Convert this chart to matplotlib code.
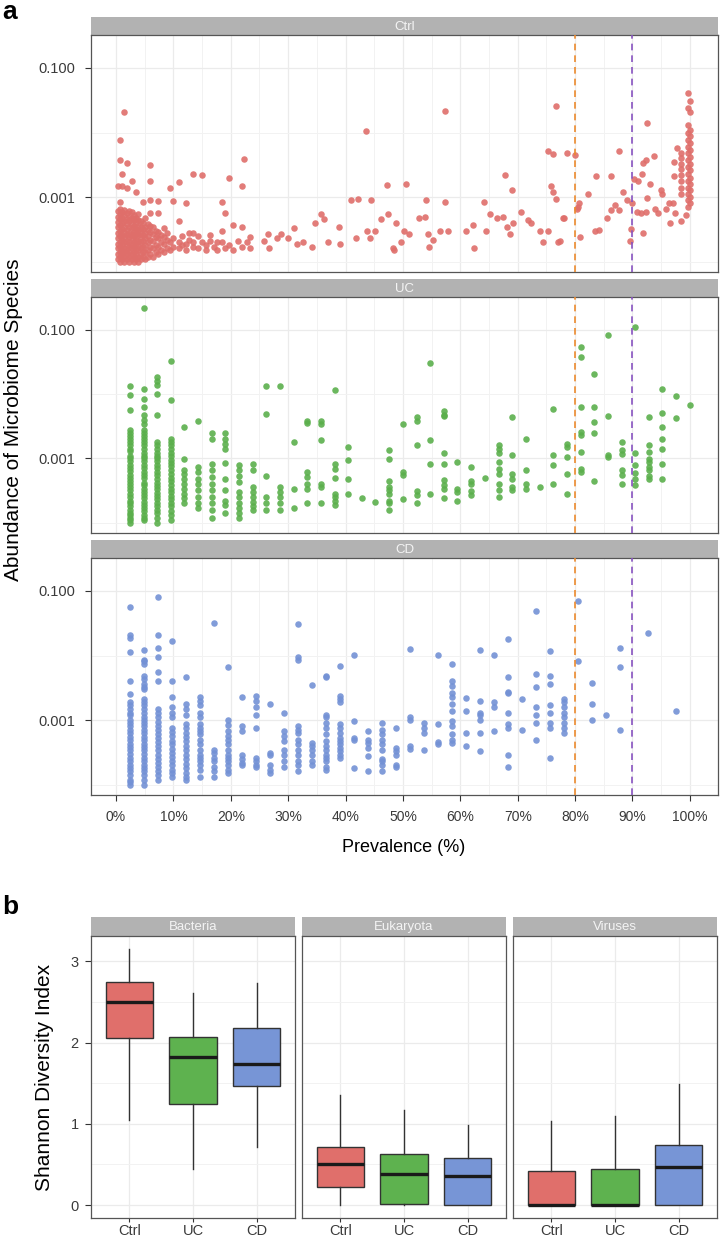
import matplotlib
matplotlib.use("Agg")
import matplotlib.pyplot as plt
from matplotlib.ticker import FixedLocator, NullFormatter

plt.rcParams['font.family'] = ['Liberation Sans', 'DejaVu Sans']

# ---------------- panel a: prevalence (%) columns and abundances ----------------
ctrl_prev = [0.3, 0.7, 1.1, 1.4, 1.9, 2.3, 2.7, 3.1, 3.5, 3.9, 4.3, 4.7, 5.1, 5.5, 5.9, 6.4, 6.9, 7.4,
             7.9, 8.4, 8.9, 9.4, 10.0, 10.9, 11.5, 12.2, 12.8, 13.5, 14.3, 14.9, 15.6, 16.3, 17.0, 17.6,
             18.4, 19.0, 19.7, 20.4, 21.2, 21.9, 22.3, 22.8, 23.4, 25.8, 26.4, 26.6, 28.0, 28.8, 30.0,
             31.0, 31.6, 32.6, 34.2, 34.6, 35.8, 36.2, 37.0, 38.8, 39.0, 41.0, 41.8, 42.2, 43.6, 43.8,
             44.2, 44.4, 45.2, 46.2, 47.2, 47.4, 48.2, 48.4, 48.8, 49.6, 50.2, 50.6, 51.0, 52.8, 53.8,
             54.0, 54.4, 54.6, 55.2, 56.4, 57.4, 57.8, 61.0, 62.2, 62.4, 64.2, 64.4, 65.2, 66.4, 67.4,
             67.8, 68.2, 68.6, 69.0, 69.2, 70.6, 71.8, 72.4, 73.8, 74.4, 75.2, 75.8, 76.2, 76.6, 77.0,
             77.4, 77.9, 78.0, 78.6, 80.0, 80.3, 80.5, 80.7, 80.8, 82.2, 83.5, 83.6, 84.2, 85.6, 86.2,
             86.9, 87.6, 87.7, 88.4, 89.0, 89.5, 89.7, 90.0, 90.2, 90.8, 91.0, 91.4, 91.6, 91.8, 92.3,
             92.5, 93.0, 93.8, 93.9, 94.5, 95.0, 95.2, 95.8, 96.4, 96.5, 97.1, 97.2, 97.4, 97.8, 98.5,
             99.3, 99.6, 100.0]
ctrl_abund = [
    [0.00011, 0.00013, 0.00016, 0.00019, 0.00023, 0.00028, 0.00034, 0.00041, 0.0005, 0.0006, 0.0015],
    [0.0001, 0.00012, 0.00014, 0.00017, 0.0002, 0.00025, 0.0003, 0.00037, 0.00045, 0.00055, 0.00065, 0.00085, 0.0037, 0.0077],
    [0.00011, 0.00013, 0.00015, 0.00018, 0.00022, 0.00026, 0.00032, 0.00039, 0.00047, 0.00058, 0.0023, 0.0015],
    [0.0001, 0.00012, 0.00014, 0.00016, 0.0002, 0.00024, 0.00029, 0.00035, 0.00043, 0.00052, 0.00062, 0.021],
    [0.00011, 0.00013, 0.00015, 0.00018, 0.00021, 0.00026, 0.00031, 0.00038, 0.00046, 0.00056, 0.0014, 0.0034],
    [0.0001, 0.00012, 0.00014, 0.00017, 0.0002, 0.00024, 0.00028, 0.00034, 0.00042, 0.0005, 0.0006],
    [0.00011, 0.00013, 0.00016, 0.00019, 0.00023, 0.00027, 0.00033, 0.0004, 0.00048, 0.00058, 0.0018],
    [0.0001, 0.00012, 0.00014, 0.00017, 0.0002, 0.00025, 0.0003, 0.00036, 0.00044, 0.00053],
    [0.00011, 0.00013, 0.00015, 0.00019, 0.00022, 0.00027, 0.00032, 0.00039, 0.00047, 0.0012],
    [0.0001, 0.00012, 0.00015, 0.00018, 0.00021, 0.00026, 0.0003, 0.00036, 0.00044, 0.00055],
    [0.00011, 0.00013, 0.00016, 0.0002, 0.00024, 0.00029, 0.00035, 0.00042],
    [0.00012, 0.00014, 0.00017, 0.00021, 0.00026, 0.00032, 0.0004, 0.00085],
    [0.00011, 0.00014, 0.00018, 0.00023, 0.00028, 0.00035, 0.00047],
    [0.00012, 0.00015, 0.0002, 0.00025, 0.00031, 0.00038],
    [0.00013, 0.00017, 0.00022, 0.00029, 0.00036, 0.00056, 0.00091, 0.0018, 0.0031],
    [0.00012, 0.00016, 0.00021, 0.00027, 0.00034],
    [0.00014, 0.00018, 0.00024, 0.0003],
    [0.00013, 0.00017, 0.00023, 0.00029, 0.00057, 0.00087],
    [0.00015, 0.0002, 0.00026],
    [0.00014, 0.00019, 0.00024, 0.00033],
    [0.00016, 0.00022, 0.00028],
    [0.00015, 0.0002, 0.0014],
    [0.00017, 0.00023, 0.00087],
    [0.00016, 0.0002, 0.00042, 0.0017],
    [0.00018, 0.00025],
    [0.00015, 0.00019, 0.0008],
    [0.00022, 0.00028],
    [0.00017, 0.0002, 0.00028, 0.0023],
    [0.00016, 0.00025],
    [0.0002, 0.0022],
    [0.00015, 0.00018],
    [0.00021, 0.00026],
    [0.00017],
    [0.00015, 0.0002],
    [0.0002, 0.0003, 0.00085],
    [0.00016, 0.00057],
    [0.00018, 0.002],
    [0.00015, 0.00037],
    [0.00021],
    [0.00017, 0.00034, 0.0015],
    [0.0039],
    [0.0002],
    [0.00016, 0.00024],
    [0.00021], [0.00027], [0.00016], [0.00023], [0.00027], [0.00023],
    [0.00033], [0.00019], [0.0002], [0.00017], [0.0004], [0.00055], [0.00046], [0.0002],
    [0.00034], [0.00019], [0.00091], [0.00023], [0.00094], [0.0105], [0.0003],
    [0.00023], [0.00091], [0.0003], [0.00046], [0.00155], [0.00055], [0.00016], [0.00015],
    [0.0004], [0.0002], [0.0003], [0.0016], [0.00027], [0.00048], [0.0005],
    [0.00089], [0.00027], [0.00017], [0.00022], [0.0003], [0.00084, 0.0214], [0.0003],
    [0.0003], [0.00037], [0.00016], [0.00085], [0.0003], [0.00055], [0.00048], [0.0005],
    [0.0022], [0.00034], [0.00027], [0.0013], [0.0004], [0.00058], [0.00044], [0.0004],
    [0.0003], [0.0002], [0.0003, 0.0051], [0.0015], [0.0012, 0.0046], [0.00093, 0.0256], [0.0002],
    [0.00021], [0.00047], [0.00048], [0.0048], [0.0045], [0.00066], [0.0007], [0.0008], [0.00024],
    [0.0011], [0.0003], [0.0021], [0.00031], [0.00048], [0.00063, 0.0021],
    [0.00076], [0.0051], [0.00063], [0.0012], [0.00091], [0.00021], [0.00032], [0.0008], [0.0019],
    [0.00059], [0.0018], [0.00056], [0.0023], [0.00028, 0.0034], [0.00059, 0.0037],
    [0.00098, 0.014], [0.0016], [0.0043], [0.00066], [0.00056], [0.0013], [0.0011], [0.00066],
    [0.0008], [0.00039], [0.0008], [0.0021, 0.0035], [0.00057], [0.0058],
    [0.00042, 0.0011, 0.0014, 0.0018, 0.0022, 0.0027, 0.0033, 0.004, 0.0048],
    [0.00052],
    [0.0007, 0.0009, 0.0011, 0.0014, 0.0018, 0.0023, 0.0029, 0.0037, 0.0048, 0.006, 0.0077, 0.0097, 0.013, 0.024, 0.041],
    [0.0008, 0.001, 0.0013, 0.0016, 0.002, 0.0026, 0.0033, 0.0042, 0.0054, 0.0068, 0.0087, 0.011, 0.021, 0.031],
]

uc_prev = [2.4, 4.8, 7.1, 9.5, 11.9, 14.3, 16.7, 19.0, 21.4, 23.8, 26.2, 28.6, 31.0, 33.3, 35.7, 38.1,
           40.5, 42.9, 45.2, 47.6, 50.0, 52.4, 54.8, 57.1, 59.5, 61.9, 64.3, 66.7, 69.0, 71.4, 73.8,
           76.2, 78.6, 81.0, 83.3, 85.7, 88.1, 90.5, 92.9, 95.2, 97.6, 100.0]
uc_abund = [
    [0.0135, 0.0098, 0.0057, 0.0028, 0.0025, 0.0022, 0.002, 0.0018, 0.0016, 0.0014, 0.0013, 0.0011, 0.001,
     0.0009, 0.0008, 0.0007, 0.00063, 0.00056, 0.0005, 0.00045, 0.0004, 0.00036, 0.00032, 0.00028, 0.00025,
     0.00022, 0.0002, 0.00018, 0.00016, 0.00014, 0.00013, 0.00012, 0.00011, 0.0001],
    [0.22, 0.012, 0.0084, 0.0063, 0.0048, 0.0039, 0.0034, 0.0028, 0.0025, 0.0022, 0.002, 0.0018, 0.0016,
     0.0014, 0.0012, 0.0011, 0.001, 0.0009, 0.0008, 0.0007, 0.00062, 0.00055, 0.0005, 0.00042, 0.00038,
     0.00034, 0.0003, 0.00027, 0.00024, 0.00021, 0.00019, 0.00017, 0.00015, 0.00013, 0.00012, 0.00011],
    [0.0187, 0.0162, 0.014, 0.0101, 0.0048, 0.0018, 0.0016, 0.0014, 0.0012, 0.0011, 0.001, 0.0009, 0.0008,
     0.0007, 0.00062, 0.00055, 0.00048, 0.00042, 0.00037, 0.00033, 0.00029, 0.00026, 0.00023, 0.0002,
     0.00018, 0.00016, 0.00014, 0.00012, 0.0001],
    [0.033, 0.0081, 0.002, 0.0018, 0.0016, 0.0014, 0.0012, 0.0011, 0.00095, 0.00085, 0.00075, 0.00066,
     0.00058, 0.0005, 0.00044, 0.00038, 0.00034, 0.0003, 0.00026, 0.00023, 0.0002, 0.00018, 0.00015,
     0.00013, 0.00011],
    [0.0031, 0.00099, 0.00065, 0.00058, 0.00048, 0.0004, 0.00034, 0.00028, 0.00024, 0.0002],
    [0.0038, 0.00073, 0.00061, 0.00048, 0.0004, 0.00032, 0.00025, 0.0002, 0.00017],
    [0.0025, 0.002, 0.00083, 0.00065, 0.00051, 0.0004, 0.00032, 0.00025, 0.0002, 0.00016, 0.00012],
    [0.0025, 0.002, 0.0017, 0.0014, 0.00085, 0.00047, 0.00032, 0.00022, 0.00019, 0.00014],
    [0.00078, 0.00065, 0.00054, 0.00043, 0.0003, 0.00025, 0.0002, 0.00017, 0.00014, 0.00012],
    [0.00083, 0.00065, 0.00036, 0.0003, 0.00025, 0.00021, 0.00018, 0.00016],
    [0.0135, 0.0049, 0.00054, 0.00025, 0.0002, 0.00016],
    [0.0135, 0.00036, 0.0003, 0.00025, 0.0002, 0.00016],
    [0.0018, 0.00033, 0.00017],
    [0.0038, 0.0036, 0.00061, 0.00051, 0.0004, 0.00033, 0.0002],
    [0.0038, 0.0034, 0.0019, 0.0004, 0.00036, 0.0002],
    [0.0117, 0.00083, 0.00069, 0.0005, 0.00028, 0.00025, 0.00022, 0.00019],
    [0.0015, 0.00095, 0.00047, 0.00028],
    [0.00024],
    [0.00021],
    [0.00136, 0.00099, 0.00045, 0.00036, 0.00032, 0.00028, 0.00022, 0.0002, 0.00016],
    [0.0034, 0.00061, 0.00056, 0.00023],
    [0.0044, 0.0038, 0.0016, 0.00031, 0.00027, 0.0002],
    [0.031, 0.0019, 0.00083, 0.00028],
    [0.0055, 0.0048, 0.0045, 0.00121, 0.00083, 0.00046, 0.00038, 0.00034, 0.00024],
    [0.00088, 0.00034, 0.0003, 0.00022],
    [0.00073, 0.00045, 0.0004, 0.00031, 0.00027],
    [0.0005],
    [0.0016, 0.0014, 0.00121, 0.00088, 0.00068, 0.00058, 0.0004, 0.00032, 0.00025],
    [0.0044, 0.00111, 0.00058, 0.00047, 0.00036, 0.00032],
    [0.002, 0.00065, 0.0004, 0.00034],
    [0.00036],
    [0.0059, 0.00111, 0.00078, 0.0004],
    [0.0017, 0.0015, 0.00107, 0.00058, 0.00028],
    [0.054, 0.038, 0.0064, 0.0026, 0.0023, 0.00125, 0.00069, 0.00061],
    [0.0206, 0.0063, 0.0037, 0.0025, 0.00045],
    [0.083, 0.0046, 0.00111, 0.00105],
    [0.0018, 0.00133, 0.00118, 0.00065, 0.00056, 0.0004],
    [0.111, 0.00121, 0.00078, 0.00059, 0.00048, 0.00038],
    [0.0044, 0.0016, 0.00125, 0.00099, 0.00088, 0.00073, 0.00065, 0.00054, 0.00048],
    [0.012, 0.005, 0.0031, 0.002, 0.0014, 0.00083, 0.00048],
    [0.0095, 0.0042],
    [0.0068],
]

cd_prev = [2.4, 4.9, 7.3, 9.8, 12.2, 14.6, 17.1, 19.5, 22.0, 24.4, 26.8, 29.3, 31.7, 34.1, 36.6, 39.0,
           41.5, 43.9, 46.3, 48.8, 51.2, 53.7, 56.1, 58.5, 61.0, 63.4, 65.9, 68.3, 70.7, 73.2, 75.6,
           78.0, 80.5, 82.9, 85.4, 87.8, 92.7, 97.6]
cd_abund = [
    [0.057, 0.021, 0.019, 0.0115, 0.004, 0.0025, 0.0019, 0.0017, 0.0015, 0.0013, 0.0012, 0.001, 0.0009,
     0.0008, 0.0007, 0.00062, 0.00055, 0.00049, 0.00043, 0.00038, 0.00034, 0.0003, 0.00026, 0.00023,
     0.0002, 0.00018, 0.00016, 0.00014, 0.00012, 0.00011, 0.0001],
    [0.012, 0.0086, 0.0081, 0.0074, 0.0048, 0.0043, 0.0036, 0.0033, 0.003, 0.0021, 0.0019, 0.0017, 0.0015,
     0.0013, 0.0011, 0.001, 0.0009, 0.0008, 0.0007, 0.00062, 0.00055, 0.00049, 0.00043, 0.00038, 0.00034,
     0.0003, 0.00026, 0.00023, 0.0002, 0.00018, 0.00016, 0.00014, 0.00012, 0.0001],
    [0.081, 0.021, 0.013, 0.0094, 0.0055, 0.0041, 0.0015, 0.0013, 0.0011, 0.00095, 0.0008, 0.0007, 0.0006,
     0.00052, 0.00045, 0.00039, 0.00034, 0.00029, 0.00025, 0.00022, 0.00019, 0.00016, 0.00014, 0.00012],
    [0.017, 0.0041, 0.0023, 0.0016, 0.0013, 0.0011, 0.00075, 0.00065, 0.00056, 0.00048, 0.00042, 0.00036,
     0.00031, 0.00027, 0.00023, 0.0002, 0.00017, 0.00015, 0.00013],
    [0.0046, 0.0018, 0.0015, 0.0012, 0.00088, 0.00075, 0.00064, 0.00055, 0.00047, 0.0004, 0.00034,
     0.00029, 0.00025, 0.00021, 0.00018, 0.00015, 0.00013, 0.00012],
    [0.0023, 0.002, 0.0017, 0.0013, 0.0011, 0.00088, 0.00075, 0.00067, 0.0006, 0.0005, 0.00042, 0.00035,
     0.00029, 0.00026, 0.00023, 0.0002, 0.00017, 0.00013],
    [0.032, 0.00035, 0.00031, 0.00026, 0.00023, 0.00019, 0.00016, 0.00013],
    [0.0066, 0.001, 0.00085, 0.00067, 0.00056, 0.0005, 0.00042, 0.00035, 0.00029, 0.00026, 0.00023,
     0.0002, 0.00017, 0.00015],
    [0.0023, 0.0008, 0.00067, 0.00029, 0.00025, 0.00022, 0.0002],
    [0.0024, 0.002, 0.0016, 0.0012, 0.00075, 0.00026, 0.00023, 0.0002, 0.00019],
    [0.0018, 0.00031, 0.00029, 0.0002, 0.00017, 0.00015],
    [0.0013, 0.00067, 0.00056, 0.00047, 0.00035, 0.00029, 0.00023, 0.00019],
    [0.031, 0.0094, 0.0084, 0.0008, 0.00071, 0.00063, 0.0005, 0.00042, 0.00035, 0.00029, 0.00023, 0.0002, 0.00016],
    [0.0035, 0.00044, 0.0004, 0.00035, 0.00029, 0.00023, 0.0002],
    [0.0048, 0.0046, 0.0012, 0.0011, 0.0009, 0.00075, 0.0006, 0.00047, 0.0004, 0.00035, 0.00029, 0.00026,
     0.00023, 0.00019, 0.00017],
    [0.0069, 0.0024, 0.0021, 0.0019, 0.00088, 0.00075, 0.00063, 0.00053, 0.00047, 0.00042, 0.00037,
     0.00033, 0.00029, 0.00026],
    [0.0103, 0.00097, 0.00053, 0.0005, 0.00018],
    [0.00067, 0.0005, 0.00044, 0.00037, 0.00028, 0.00016],
    [0.0009, 0.00071, 0.0006, 0.0005, 0.00042, 0.00035, 0.00025, 0.00023, 0.0002, 0.00016],
    [0.00075, 0.00037, 0.00033, 0.00029, 0.0002, 0.00019],
    [0.0126, 0.0011, 0.001, 0.0004, 0.00036],
    [0.0009, 0.00075, 0.00063, 0.00035],
    [0.0103, 0.00088, 0.00046, 0.00043],
    [0.0074, 0.0041, 0.0034, 0.0026, 0.0023, 0.0018, 0.0014, 0.00097, 0.0008, 0.00061, 0.0005, 0.00044],
    [0.0022, 0.0014, 0.00062, 0.0004],
    [0.012, 0.002, 0.0013, 0.0012, 0.001, 0.00063, 0.00033],
    [0.0103, 0.0019, 0.0016, 0.00067],
    [0.018, 0.0046, 0.0027, 0.0026, 0.0013, 0.00088, 0.00075, 0.00029, 0.00019],
    [0.0021, 0.00069],
    [0.049, 0.0051, 0.0033, 0.0016, 0.0012, 0.0009, 0.0005],
    [0.0117, 0.0048, 0.0036, 0.0017, 0.0013, 0.0009, 0.00075, 0.00026],
    [0.0021, 0.0019, 0.0016, 0.0013, 0.0011, 0.0009, 0.00075, 0.00063],
    [0.07, 0.0081],
    [0.0038, 0.0018, 0.001],
    [0.0012],
    [0.013, 0.0066, 0.00069],
    [0.022],
    [0.0014],
]

# ---------------- panel b: Shannon diversity box statistics ----------------
kingdoms = ['Bacteria', 'Eukaryota', 'Viruses']
groups = ['Ctrl', 'UC', 'CD']
sh_whislo = [[1.05, 0.45, 0.72], [0.0, 0.0, 0.0], [0.0, 0.0, 0.0]]
sh_q1 = [[2.05, 1.24, 1.47], [0.225, 0.01, 0.0], [0.0, 0.0, 0.0]]
sh_med = [[2.50, 1.82, 1.74], [0.51, 0.38, 0.356], [0.0, 0.0, 0.47]]
sh_q3 = [[2.74, 2.07, 2.18], [0.72, 0.63, 0.585], [0.42, 0.44, 0.74]]
sh_whishi = [[3.15, 2.61, 2.73], [1.35, 1.17, 0.99], [1.04, 1.10, 1.49]]

pt_colors = ['#DF6E6A', '#5BAF4C', '#7391D5']
box_colors = ['#E06F6B', '#5EB24F', '#7795D6']
W, H = 720, 1242
grid_c = '#EBEBEB'
strip_c = '#B2B2B2'
border_c = '#555555'

fig = plt.figure(figsize=(W / 100, H / 100), dpi=100)


def px_axes(x0, y0, x1, y1, **kw):
    # pixel box (top-left origin) -> figure axes
    return fig.add_axes([x0 / W, 1 - y1 / H, (x1 - x0) / W, (y1 - y0) / H], **kw)


def add_strip(x0, y0, x1, y1, label):
    s = px_axes(x0, y0, x1, y1, facecolor=strip_c)
    s.set_xticks([])
    s.set_yticks([])
    for sp in s.spines.values():
        sp.set_visible(False)
    s.text(0.5, 0.45, label, ha='center', va='center', color='#F4F4F4', fontsize=9.5,
           transform=s.transAxes)


# ---------------- a: scatter facets ----------------
facets = [('Ctrl', ctrl_prev, ctrl_abund), ('UC', uc_prev, uc_abund), ('CD', cd_prev, cd_abund)]
panel_px = [(17, 35, 272), (279, 297, 533), (540, 558, 795)]

for i, (name, prev, abund) in enumerate(facets):
    st, top, bot = panel_px[i]
    add_strip(91, st, 718, top, name)
    ax = px_axes(91, top, 718, bot)
    xs, ys = [], []
    for p, vals in zip(prev, abund):
        xs += [p] * len(vals)
        ys += vals
    ax.scatter(xs, ys, s=22, color=pt_colors[i], alpha=0.9, linewidths=0, zorder=2)
    ax.axvline(80, color='#EC8A2E', lw=1.2, ls=(0, (4, 3)), zorder=3)
    ax.axvline(90, color='#8853C0', lw=1.2, ls=(0, (4, 3)), zorder=3)
    ax.set_yscale('log')
    ax.set_ylim(10 ** -4.16, 10 ** -0.49)
    ax.set_xlim(-4.36, 104.9)
    ax.yaxis.set_major_locator(FixedLocator([0.001, 0.1]))
    ax.yaxis.set_minor_locator(FixedLocator([0.0001, 0.01]))
    ax.yaxis.set_minor_formatter(NullFormatter())
    ax.set_yticklabels(['0.001', '0.100'])
    ax.xaxis.set_major_locator(FixedLocator(list(range(0, 101, 10))))
    ax.xaxis.set_minor_locator(FixedLocator(list(range(5, 100, 10))))
    ax.grid(which='major', color=grid_c, lw=0.9, zorder=0)
    ax.grid(which='minor', color='#F2F2F2', lw=0.7, zorder=0)
    ax.set_axisbelow(True)
    ax.tick_params(which='minor', length=0)
    ax.tick_params(axis='y', which='major', length=4, width=0.8, color='#333333',
                   labelcolor='#3A3A3A', labelsize=10.5, pad=7)
    if i < 2:
        ax.tick_params(axis='x', which='major', length=0, labelbottom=False)
    else:
        ax.set_xticklabels([f'{v}%' for v in range(0, 101, 10)])
        ax.tick_params(axis='x', which='major', length=4, width=0.8, color='#333333',
                       labelcolor='#3A3A3A', labelsize=10, pad=7)
    for sp in ax.spines.values():
        sp.set_color(border_c)
        sp.set_linewidth(0.9)

fig.text(14 / W, 1 - 420 / H, 'Abundance of Microbiome Species', rotation=90,
         ha='center', va='center', fontsize=15)
fig.text(404 / W, 1 - 847 / H, 'Prevalence (%)', ha='center', va='center', fontsize=13)
fig.text(2 / W, 1 - 12 / H, 'a', fontsize=19, fontweight='bold', ha='left', va='center')
fig.text(2 / W, 1 - 907 / H, 'b', fontsize=19, fontweight='bold', ha='left', va='center')

# ---------------- b: Shannon boxplots ----------------
box_x = [(91, 295), (302, 506), (513, 717)]
for k, kingdom in enumerate(kingdoms):
    x0, x1 = box_x[k]
    add_strip(x0, 917, x1, 936, kingdom)
    ax = px_axes(x0, 936, x1, 1218)
    stats = []
    for g in range(3):
        stats.append(dict(whislo=sh_whislo[k][g], q1=sh_q1[k][g], med=sh_med[k][g],
                          q3=sh_q3[k][g], whishi=sh_whishi[k][g], fliers=[]))
    bp = ax.bxp(stats, positions=[1, 2, 3], widths=0.74, patch_artist=True, showfliers=False,
                showcaps=False,
                boxprops=dict(edgecolor='#333333', linewidth=1.0),
                whiskerprops=dict(color='#333333', linewidth=1.0),
                medianprops=dict(color='#1A1A1A', linewidth=2.4, solid_capstyle='butt'))
    for patch, c in zip(bp['boxes'], box_colors):
        patch.set_facecolor(c)
    ax.set_xlim(0.4, 3.6)
    ax.set_ylim(-0.158, 3.31)
    ax.set_xticks([1, 2, 3])
    ax.set_xticklabels(groups)
    ax.yaxis.set_major_locator(FixedLocator([0, 1, 2, 3]))
    ax.yaxis.set_minor_locator(FixedLocator([0.5, 1.5, 2.5]))
    ax.grid(which='major', color=grid_c, lw=0.9)
    ax.grid(which='minor', axis='y', color='#F2F2F2', lw=0.7)
    ax.set_axisbelow(True)
    ax.tick_params(which='minor', length=0)
    ax.tick_params(axis='x', length=3, width=0.8, color='#333333', labelcolor='#3A3A3A',
                   labelsize=10.5, pad=1)
    if k == 0:
        ax.tick_params(axis='y', length=4, width=0.8, color='#333333', labelcolor='#3A3A3A',
                       labelsize=10.5, pad=5)
    else:
        ax.tick_params(axis='y', length=0, labelleft=False)
    for sp in ax.spines.values():
        sp.set_color(border_c)
        sp.set_linewidth(0.9)

fig.text(45 / W, 1 - 1077 / H, 'Shannon Diversity Index', rotation=90,
         ha='center', va='center', fontsize=15)

fig.savefig('out.png', dpi=100)
